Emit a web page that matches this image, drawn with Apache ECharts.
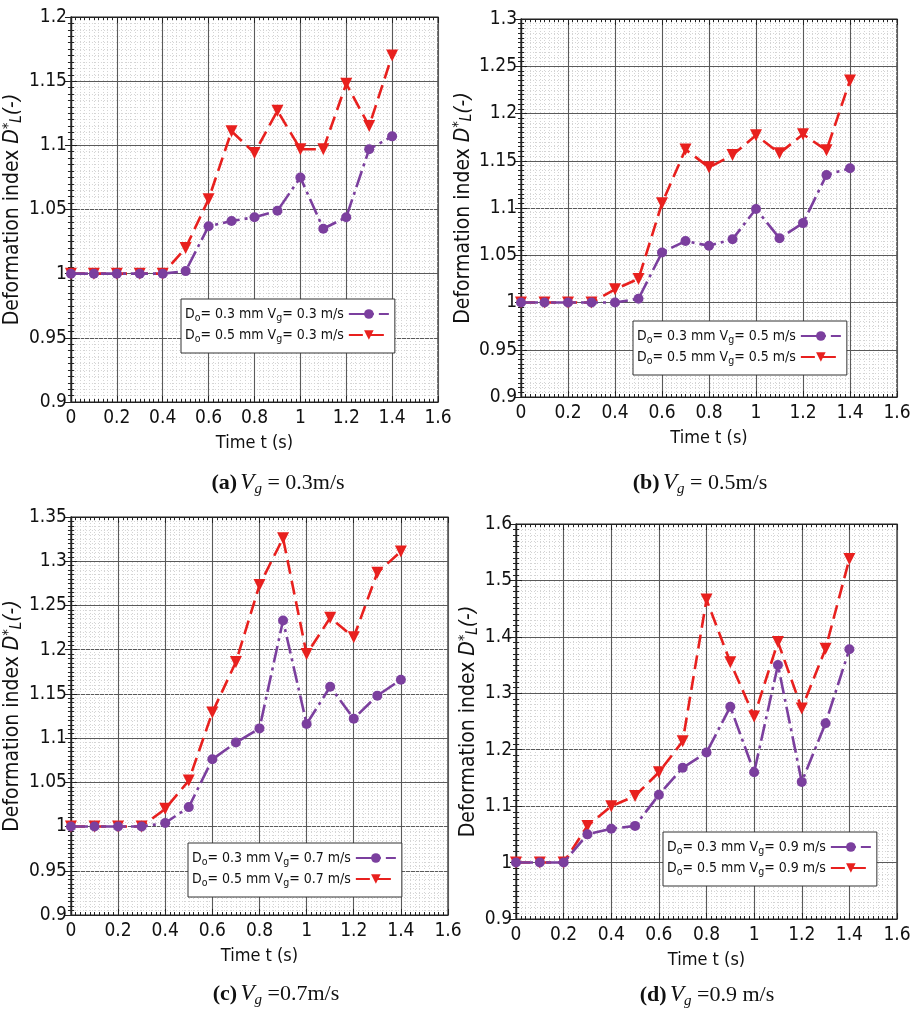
<!DOCTYPE html>
<html>
<head>
<meta charset="utf-8">
<script src="https://cdn.jsdelivr.net/npm/echarts@6/dist/echarts.min.js"></script>
<style>
  html, body { margin: 0; padding: 0; background: #fff; }
  #chart { width: 916px; height: 1009px; }
</style>
</head>
<body>
<div id="chart"></div>
<script>
// Time samples (s)
const times = [0, 0.1, 0.2, 0.3, 0.4, 0.5, 0.6, 0.7, 0.8, 0.9, 1.0, 1.1, 1.2, 1.3, 1.4];

// Gas velocities of the four panels (m/s) and droplet diameters (mm)
const gasSpeeds = ['0.3', '0.5', '0.7', '0.9'];
const diameters = ['0.3', '0.5'];
const panelTags = ['(a)', '(b)', '(c)', '(d)'];
const captionTails = [' = 0.3m/s', ' = 0.5m/s', ' =0.7m/s', ' =0.9 m/s'];

// Deformation index D*_L, Vg = 0.3 m/s
const vg03_d03 = [1, 1, 1, 1, 1, 1.002, 1.037, 1.041, 1.044, 1.049, 1.075, 1.035, 1.044, 1.097, 1.107];
const vg03_d05 = [1, 1, 1, 1, 1, 1.020, 1.058, 1.111, 1.094, 1.127, 1.097, 1.097, 1.148, 1.115, 1.170];
// Vg = 0.5 m/s
const vg05_d03 = [1, 1, 1, 1, 1, 1.004, 1.053, 1.065, 1.060, 1.067, 1.099, 1.068, 1.084, 1.135, 1.142];
const vg05_d05 = [1, 1, 1, 1, 1.014, 1.025, 1.105, 1.162, 1.143, 1.156, 1.177, 1.158, 1.178, 1.161, 1.235];
// Vg = 0.7 m/s
const vg07_d03 = [1, 1, 1, 1, 1.004, 1.022, 1.076, 1.095, 1.111, 1.233, 1.116, 1.158, 1.122, 1.148, 1.166];
const vg07_d05 = [1, 1, 1, 1, 1.020, 1.052, 1.129, 1.186, 1.273, 1.326, 1.195, 1.236, 1.214, 1.287, 1.311];
// Vg = 0.9 m/s
const vg09_d03 = [1, 1, 1, 1.050, 1.060, 1.065, 1.120, 1.168, 1.195, 1.276, 1.160, 1.350, 1.143, 1.247, 1.378];
const vg09_d05 = [1, 1, 1, 1.065, 1.100, 1.118, 1.160, 1.215, 1.466, 1.355, 1.259, 1.391, 1.273, 1.379, 1.538];

// Axis ranges per panel
const xMin = 0, xMax = 1.6, xStep = 0.2;
const yMins = [0.9, 0.9, 0.9, 0.9];
const yMaxs = [1.2, 1.3, 1.35, 1.6];
const ySteps = [0.05, 0.05, 0.05, 0.1];

const panelSeries = [
  [vg03_d03, vg03_d05],
  [vg05_d03, vg05_d05],
  [vg07_d03, vg07_d05],
  [vg09_d03, vg09_d05]
];

// Layout of the 2x2 panels (pixels)
const grids = [
  { left: 66,  top: 17,  width: 372, height: 385 },
  { left: 521, top: 19,  width: 376, height: 378 },
  { left: 66,  top: 517, width: 382, height: 398 },
  { left: 516, top: 524, width: 381, height: 395 }
];
const yNameGaps = [30, 37, 33, 27];
const legendPos = [
  { left: 181, top: 299 },
  { left: 633, top: 321 },
  { left: 188, top: 843 },
  { left: 663, top: 832 }
];
const captionPos = [
  [278, 483], [700, 483], [276, 994], [707, 995]
];

const FONT = "'DejaVu Sans Condensed', 'DejaVu Sans', sans-serif";
const SERIF = "'Liberation Serif', 'DejaVu Serif', serif";
const PURPLE = '#7b3f9e';
const RED = '#e8201e';

const fmt = v => String(parseFloat(v.toFixed(3)));

const option = {
  animation: false,
  backgroundColor: '#fff',
  grid: grids.map(g => Object.assign({ show: true, borderColor: '#222', borderWidth: 1.2, backgroundColor: 'transparent' }, g)),
  xAxis: [],
  yAxis: [],
  legend: [],
  series: [],
  graphic: []
};

const tickColor = '#222';

grids.forEach((g, p) => {
  // bottom axis with labels and grid
  option.xAxis.push({
    type: 'value', gridIndex: p, position: 'bottom',
    min: xMin, max: xMax, interval: xStep,
    name: 'Time t (s)', nameLocation: 'middle', nameGap: 32,
    nameTextStyle: { fontFamily: FONT, fontSize: 18, color: '#111' },
    axisLine: { show: true, lineStyle: { color: tickColor, width: 1.2 } },
    axisTick: { show: true, inside: true, length: 6, lineStyle: { color: tickColor } },
    minorTick: { show: true, splitNumber: 10, length: 3, lineStyle: { color: tickColor } },
    axisLabel: { fontFamily: FONT, fontSize: 19, color: '#111', margin: 7, formatter: fmt },
    splitLine: { show: true, lineStyle: { color: '#5a5a5a', width: 1.1 } },
    minorSplitLine: { show: true, lineStyle: { color: '#d4d4d4', width: 1, type: [1, 2] } }
  });
  // top mirror axis
  option.xAxis.push({
    type: 'value', gridIndex: p, position: 'top',
    min: xMin, max: xMax, interval: xStep,
    axisLine: { show: true, lineStyle: { color: tickColor, width: 1.2 } },
    axisTick: { show: true, inside: true, length: 6, lineStyle: { color: tickColor } },
    minorTick: { show: true, splitNumber: 10, length: 3, lineStyle: { color: tickColor } },
    axisLabel: { show: false }, splitLine: { show: false }
  });
  // left axis with labels and grid
  option.yAxis.push({
    type: 'value', gridIndex: p, position: 'left',
    min: yMins[p], max: yMaxs[p], interval: ySteps[p],
    name: '{n|Deformation index }{i|D}{sup|*}{sub|L}{i|(-)}',
    nameLocation: 'middle', nameGap: yNameGaps[p], nameRotate: 90,
    nameTextStyle: {
      fontFamily: FONT, fontSize: 21, color: '#111',
      rich: {
        n: { fontFamily: FONT, fontSize: 21, lineHeight: 24, color: '#111' },
        i: { fontFamily: FONT, fontSize: 21, lineHeight: 24, fontStyle: 'italic', color: '#111' },
        sup: { fontFamily: FONT, fontSize: 14, lineHeight: 12, verticalAlign: 'top', fontStyle: 'italic', color: '#111' },
        sub: { fontFamily: FONT, fontSize: 15, lineHeight: 14, verticalAlign: 'bottom', fontStyle: 'italic', color: '#111' }
      }
    },
    axisLine: { show: true, lineStyle: { color: tickColor, width: 1.2 } },
    axisTick: { show: true, inside: true, length: 6, lineStyle: { color: tickColor } },
    minorTick: { show: true, splitNumber: 10, length: 3, lineStyle: { color: tickColor } },
    axisLabel: { fontFamily: FONT, fontSize: 19, color: '#111', margin: 4, formatter: fmt },
    splitLine: { show: true, lineStyle: { color: '#5a5a5a', width: 1.1 } },
    minorSplitLine: { show: true, lineStyle: { color: '#d4d4d4', width: 1, type: [1, 2] } }
  });
  // right mirror axis
  option.yAxis.push({
    type: 'value', gridIndex: p, position: 'right',
    min: yMins[p], max: yMaxs[p], interval: ySteps[p],
    axisLine: { show: true, lineStyle: { color: tickColor, width: 1.2 } },
    axisTick: { show: true, inside: true, length: 6, lineStyle: { color: tickColor } },
    minorTick: { show: true, splitNumber: 10, length: 3, lineStyle: { color: tickColor } },
    axisLabel: { show: false }, splitLine: { show: false }
  });

  const names = diameters.map(d => 'D' + d + '|V' + gasSpeeds[p]);
  const styles = [
    { color: PURPLE, symbol: 'circle', symbolSize: 10, rotate: 0, dash: [17, 5, 3, 5] },
    { color: RED, symbol: 'triangle', symbolSize: 12, rotate: 180, dash: [14, 7] }
  ];
  panelSeries[p].forEach((vals, k) => {
    const s = styles[k];
    option.series.push({
      name: names[k], type: 'line',
      xAxisIndex: p * 2, yAxisIndex: p * 2,
      data: times.map((t, i) => [t, vals[i]]),
      symbol: s.symbol, symbolSize: s.symbolSize, symbolRotate: s.rotate,
      showAllSymbol: true,
      itemStyle: { color: s.color },
      lineStyle: { color: s.color, width: 2.6, type: s.dash },
      z: 3 + (1 - k)
    });
  });

  option.legend.push({
    data: names,
    left: legendPos[p].left, top: legendPos[p].top,
    orient: 'vertical', align: 'right',
    backgroundColor: '#fff', borderColor: '#333', borderWidth: 1,
    padding: [8, 5, 8, 4], itemGap: 4, itemWidth: 40, itemHeight: 12,
    selectedMode: false,
    formatter: name => {
      const d = name.split('|')[0].slice(1);
      return '{t|D}{s|o}{t|= ' + d + ' mm V}{s|g}{t|= ' + gasSpeeds[p] + ' m/s}';
    },
    textStyle: {
      fontFamily: FONT, fontSize: 14, color: '#111',
      rich: {
        t: { fontFamily: FONT, fontSize: 14, lineHeight: 20, color: '#111' },
        s: { fontFamily: FONT, fontSize: 10.5, lineHeight: 11, verticalAlign: 'bottom', color: '#111' }
      }
    }
  });

  option.graphic.push({
    type: 'text',
    x: captionPos[p][0], y: captionPos[p][1],
    style: {
      text: '{b|' + panelTags[p] + '} {i|V}{s|g}{n|' + captionTails[p] + '}',
      align: 'center', verticalAlign: 'middle',
      rich: {
        b: { fontFamily: SERIF, fontSize: 22, fontWeight: 'bold', lineHeight: 28, fill: '#111' },
        i: { fontFamily: SERIF, fontSize: 23, fontStyle: 'italic', lineHeight: 28, fill: '#111' },
        s: { fontFamily: SERIF, fontSize: 15, fontStyle: 'italic', lineHeight: 14, verticalAlign: 'bottom', fill: '#111' },
        n: { fontFamily: SERIF, fontSize: 22, lineHeight: 28, fill: '#111' }
      }
    }
  });
});

const chart = echarts.init(document.getElementById('chart'), null, { renderer: 'canvas' });
chart.setOption(option);
</script>
</body>
</html>
